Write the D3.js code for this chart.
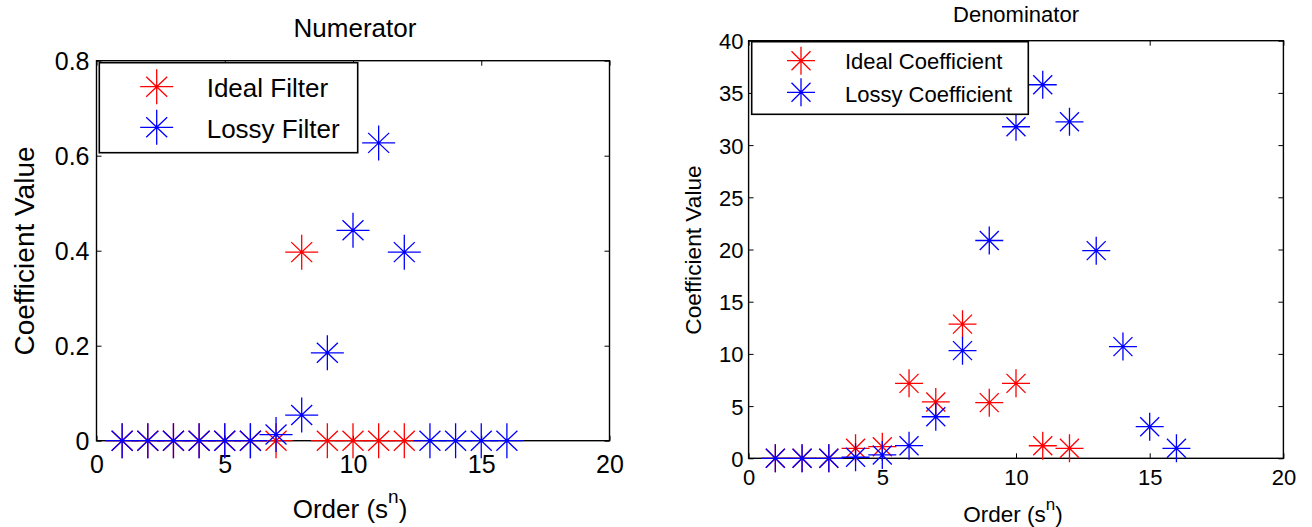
<!DOCTYPE html>
<html><head><meta charset="utf-8">
<script src="https://cdn.jsdelivr.net/npm/d3@7"></script>
<style>
body{margin:0;background:#fff}
text{font-family:"Liberation Sans",Arial,Helvetica,sans-serif;fill:#000}
</style>
</head><body>
<svg id="c" width="1312" height="527"></svg>
<script>
// ---------- data ----------
const numOrderIdeal = [1,2,3,4,5,6,7,8,9,10,11,12];
const numIdeal      = [0,0,0,0,0,0,0,0.397,0,0,0,0];
const numOrderLossy = [1,2,3,4,5,6,7,8,9,10,11,12,13,14,15,16];
const numLossy      = [0,0,0,0,0,0,0.013,0.054,0.185,0.443,0.627,0.397,0,0,0,0];

const denOrderIdeal = [1,2,3,4,5,6,7,8,9,10,11,12];
const denIdeal      = [0,0,0,0.96,1.11,7.18,5.40,12.85,5.33,7.18,1.20,0.96];
const denOrderLossy = [1,2,3,4,5,6,7,8,9,10,11,12,13,14,15,16];
const denLossy      = [0,0,0,0.10,0.32,1.21,3.98,10.31,20.86,31.76,35.78,32.23,19.89,10.70,3.03,0.96];

const xTicks    = [0,5,10,15,20];
const numYTicks = [0,0.2,0.4,0.6,0.8];
const denYTicks = [0,5,10,15,20,25,30,35,40];
const numTitle = "Numerator";
const denTitle = "Denominator";
const numLegend = ["Ideal Filter","Lossy Filter"];
const denLegend = ["Ideal Coefficient","Lossy Coefficient"];
const yLabel = "Coefficient Value";
const xLabelMain = "Order (s", xLabelSup = "n", xLabelEnd = ")";
const colors = ["#ff0000","#0000ff"];

const svg = d3.select("#c");

function star(rx, ry, dx, dy){
  return `M${-rx},0H${rx}M0,${-ry}V${ry}M${-dx},${-dy}L${dx},${dy}M${-dx},${dy}L${dx},${-dy}`;
}

function panel(p){
  const g = svg.append("g");
  const x = d3.scaleLinear().domain([0,20]).range([p.x0,p.x1]);
  const y = d3.scaleLinear().domain(p.yDomain).range([p.y0,p.y1]);

  // frame
  g.append("rect").attr("x",p.x0).attr("y",p.y1).attr("width",p.x1-p.x0).attr("height",p.y0-p.y1)
    .attr("fill","#fff").attr("stroke","#000").attr("stroke-width",1.4);

  const tl = 5;
  // bottom axis with labels
  const ax = g.append("g").attr("transform",`translate(0,${p.y0})`)
    .call(d3.axisBottom(x).tickValues(xTicks).tickSizeInner(-tl).tickSizeOuter(0).tickPadding(0).tickFormat(d=>String(d)));
  ax.select(".domain").remove();
  ax.selectAll("line").attr("stroke","#000").attr("stroke-width",1);
  ax.selectAll("text").attr("dy",null).attr("y",p.xTickBase-p.y0).attr("font-size",p.tickFont)
    .style("font-family",'"Liberation Sans",Arial,sans-serif');
  // top axis ticks
  const axT = g.append("g").attr("transform",`translate(0,${p.y1})`)
    .call(d3.axisTop(x).tickValues(xTicks).tickSizeInner(-tl).tickSizeOuter(0).tickFormat(""));
  axT.select(".domain").remove();
  axT.selectAll("line").attr("stroke","#000");
  // left axis with labels
  const ay = g.append("g").attr("transform",`translate(${p.x0},0)`)
    .call(d3.axisLeft(y).tickValues(p.yTicks).tickSizeInner(-tl).tickSizeOuter(0).tickPadding(p.yTickPad).tickFormat(d=>String(d)));
  ay.select(".domain").remove();
  ay.selectAll("line").attr("stroke","#000");
  ay.selectAll("text").attr("font-size",p.tickFont).attr("dy","0.36em")
    .style("font-family",'"Liberation Sans",Arial,sans-serif');
  // right axis ticks
  const ayR = g.append("g").attr("transform",`translate(${p.x1},0)`)
    .call(d3.axisRight(y).tickValues(p.yTicks).tickSizeInner(-tl).tickSizeOuter(0).tickFormat(""));
  ayR.select(".domain").remove();
  ayR.selectAll("line").attr("stroke","#000");
  g.selectAll(".tick").filter(function(){return false;});

  // markers
  const m = p.marker;
  const series = [
    {xs:p.ideal[0], ys:p.ideal[1], c:colors[0]},
    {xs:p.lossy[0], ys:p.lossy[1], c:colors[1]}
  ];
  series.forEach(s=>{
    g.append("g").selectAll("path").data(s.xs.map((o,i)=>[o,s.ys[i]])).join("path")
      .attr("transform",d=>`translate(${x(d[0])},${y(d[1])})`)
      .attr("d",star(m.rx,m.ry,m.dx,m.dy))
      .attr("fill","none").attr("stroke",s.c).attr("stroke-width",1.3);
  });

  // legend
  const L = p.legend;
  g.append("rect").attr("x",L.x).attr("y",L.y).attr("width",L.w).attr("height",L.h)
    .attr("fill","#fff").attr("stroke","#000").attr("stroke-width",1.6);
  p.legendLabels.forEach((t,i)=>{
    g.append("path").attr("transform",`translate(${L.mx},${L.my[i]})`)
      .attr("d",star(m.rx,m.ry,m.dx,m.dy)).attr("fill","none").attr("stroke",colors[i]).attr("stroke-width",1.3);
    g.append("text").attr("x",L.tx).attr("y",L.tb[i]).attr("font-size",L.font).text(t);
  });

  // title
  g.append("text").attr("x",p.title.x).attr("y",p.title.y).attr("text-anchor","middle")
    .attr("font-size",p.title.size).text(p.title.text);
  // y label
  g.append("text").attr("transform",`translate(${p.ylab.x},${p.ylab.y}) rotate(-90)`)
    .attr("text-anchor","middle").attr("font-size",p.ylab.size).text(yLabel);
  // x label
  const xl = g.append("text").attr("x",p.xlab.x).attr("y",p.xlab.y).attr("text-anchor","middle")
    .attr("font-size",p.xlab.size);
  xl.append("tspan").text(xLabelMain);
  xl.append("tspan").attr("dy",-p.xlab.sup).attr("font-size",p.xlab.supSize).text(xLabelSup);
  xl.append("tspan").attr("dy",p.xlab.sup).text(xLabelEnd);
}

panel({
  x0:96.5, x1:609.5, y0:440.7, y1:60.7, yDomain:[0,0.8], yTicks:numYTicks,
  tickFont:25, xTickBase:473, yTickPad:7,
  marker:{rx:16.5, ry:17.5, dx:10.5, dy:10},
  ideal:[numOrderIdeal,numIdeal], lossy:[numOrderLossy,numLossy],
  legend:{x:99.3,y:62.7,w:258.4,h:90,mx:156.7,my:[86.7,127.3],tx:206.7,tb:[97.3,137.7],font:26},
  legendLabels:numLegend,
  title:{x:355,y:37,size:26,text:numTitle},
  ylab:{x:33.5,y:251,size:28},
  xlab:{x:350,y:518,size:26,sup:15,supSize:19}
});

panel({
  x0:748.6, x1:1283.4, y0:458.3, y1:40.7, yDomain:[0,40], yTicks:denYTicks,
  tickFont:22, xTickBase:485, yTickPad:5,
  marker:{rx:14, ry:14, dx:9.5, dy:9.5},
  ideal:[denOrderIdeal,denIdeal], lossy:[denOrderLossy,denLossy],
  legend:{x:751.7,y:41.7,w:276.6,h:72.6,mx:801,my:[60.7,92.3],tx:845,tb:[69,101.7],font:22},
  legendLabels:denLegend,
  title:{x:1016,y:22,size:22,text:denTitle},
  ylab:{x:700.5,y:250,size:22.7},
  xlab:{x:1013,y:522,size:22.5,sup:12,supSize:17}
});
</script>
</body></html>
